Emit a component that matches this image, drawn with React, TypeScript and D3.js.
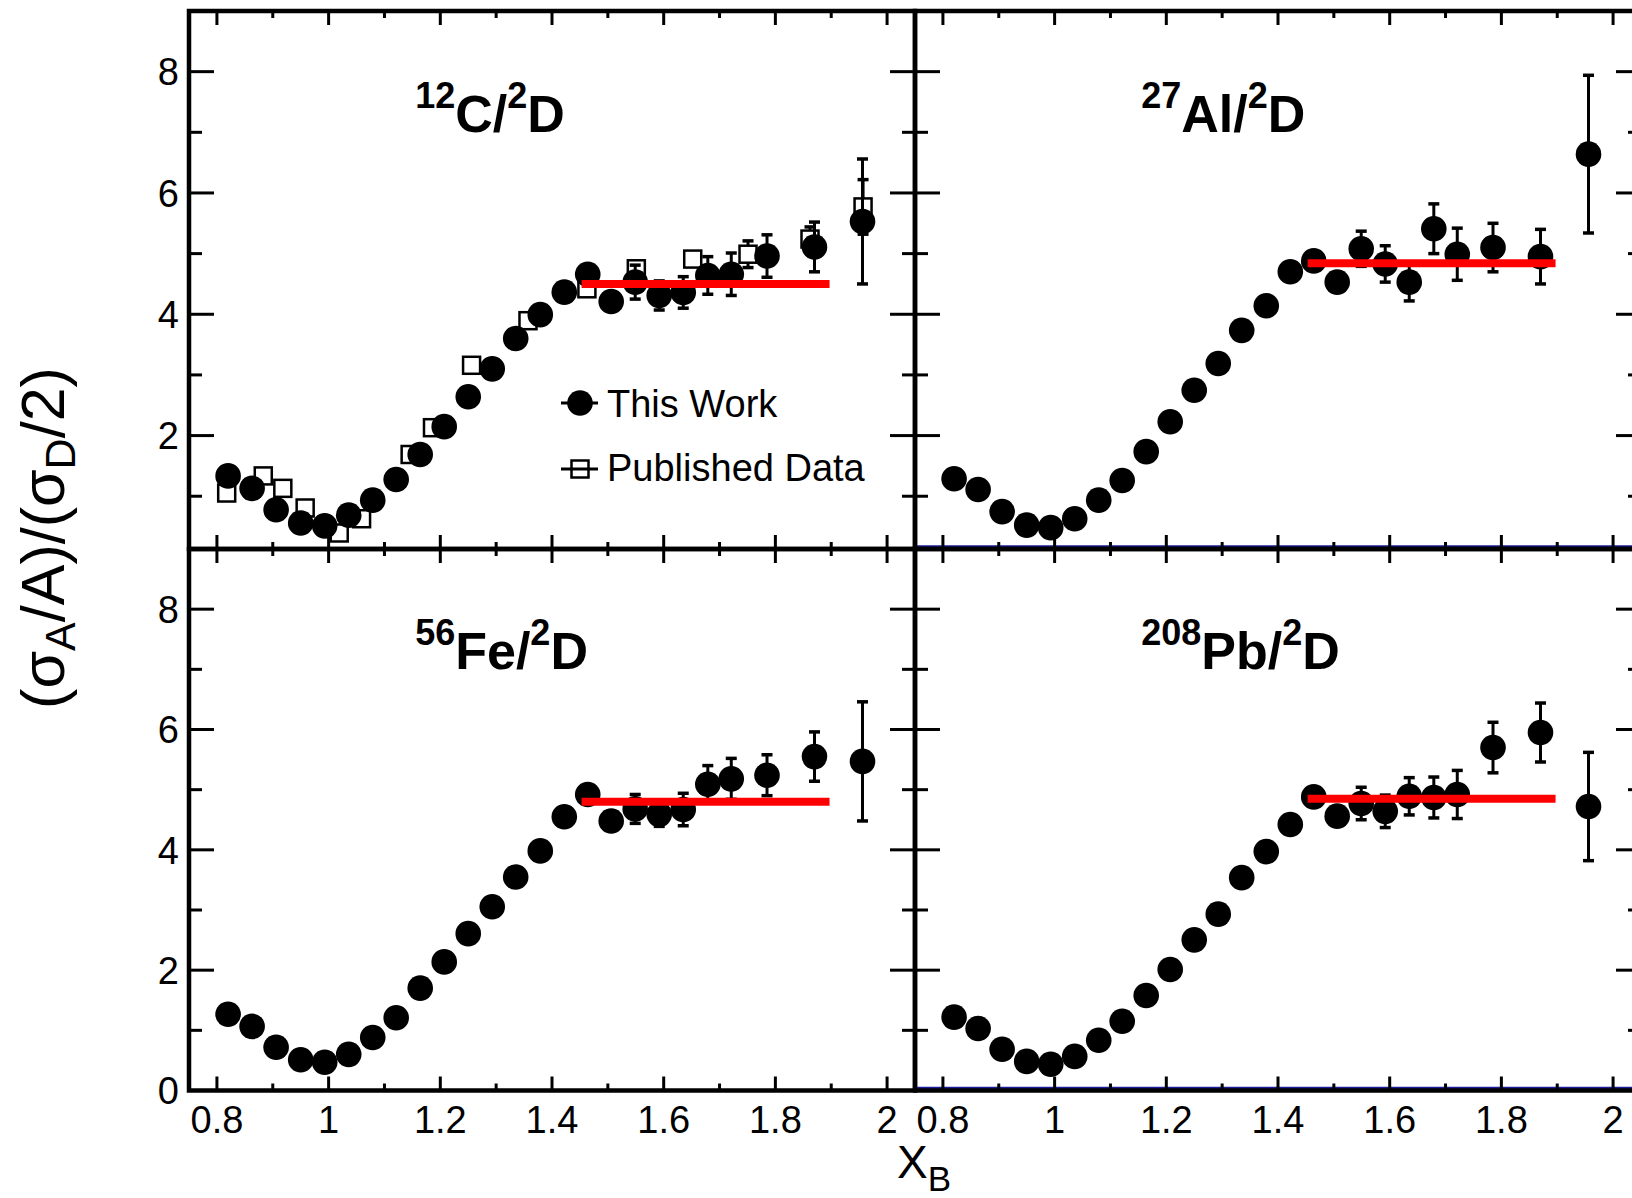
import React from 'react';
import * as d3 from 'd3';

// ---------- data ----------
const xB = [0.820, 0.863, 0.906, 0.950, 0.993, 1.036, 1.079, 1.121, 1.164, 1.207, 1.250, 1.293, 1.335, 1.379, 1.422, 1.464, 1.506, 1.549, 1.592, 1.635, 1.679, 1.721, 1.785, 1.870, 1.956];

const carbonRatio = [1.335, 1.13, 0.776, 0.559, 0.512, 0.688, 0.935, 1.276, 1.688, 2.147, 2.641, 3.10, 3.60, 3.994, 4.365, 4.66, 4.21, 4.53, 4.31, 4.36, 4.64, 4.66, 4.96, 5.11, 5.53];
const carbonErr = [0.03, 0.03, 0.03, 0.03, 0.03, 0.03, 0.03, 0.03, 0.03, 0.03, 0.03, 0.03, 0.03, 0.03, 0.03, 0.08, 0.12, 0.28, 0.24, 0.26, 0.31, 0.35, 0.35, 0.41, 1.03];

const aluminumRatio = [1.288, 1.112, 0.747, 0.524, 0.482, 0.629, 0.935, 1.259, 1.735, 2.229, 2.747, 3.188, 3.735, 4.141, 4.70, 4.88, 4.53, 5.08, 4.83, 4.53, 5.41, 4.99, 5.10, 4.95, 6.64];
const aluminumErr = [0.03, 0.03, 0.03, 0.03, 0.03, 0.03, 0.03, 0.03, 0.03, 0.03, 0.03, 0.03, 0.03, 0.03, 0.03, 0.10, 0.12, 0.29, 0.30, 0.31, 0.41, 0.43, 0.40, 0.45, 1.30];

const ironRatio = [1.268, 1.065, 0.72, 0.512, 0.47, 0.601, 0.881, 1.208, 1.702, 2.137, 2.607, 3.054, 3.548, 3.982, 4.55, 4.92, 4.48, 4.68, 4.59, 4.67, 5.09, 5.18, 5.24, 5.55, 5.47];
const ironErr = [0.03, 0.03, 0.03, 0.03, 0.03, 0.03, 0.03, 0.03, 0.03, 0.03, 0.03, 0.03, 0.03, 0.03, 0.03, 0.08, 0.10, 0.24, 0.20, 0.27, 0.31, 0.34, 0.34, 0.41, 0.99];

const leadRatio = [1.22, 1.03, 0.686, 0.484, 0.436, 0.567, 0.835, 1.15, 1.578, 2.011, 2.504, 2.932, 3.538, 3.971, 4.42, 4.88, 4.56, 4.77, 4.64, 4.89, 4.87, 4.92, 5.70, 5.95, 4.72];
const leadErr = [0.03, 0.03, 0.03, 0.03, 0.03, 0.03, 0.03, 0.03, 0.03, 0.03, 0.03, 0.03, 0.03, 0.03, 0.03, 0.08, 0.10, 0.27, 0.27, 0.31, 0.34, 0.40, 0.42, 0.49, 0.90];

// published carbon data (open squares)
const publishedX = [0.8175, 0.883, 0.918, 0.958, 1.019, 1.059, 1.146, 1.186, 1.256, 1.357, 1.4625, 1.551, 1.652, 1.751, 1.862, 1.957];
const publishedRatio = [1.053, 1.335, 1.13, 0.806, 0.394, 0.629, 1.688, 2.13, 3.159, 3.894, 4.42, 4.75, 4.91, 4.99, 5.24, 5.77];
const publishedErr = [0.03, 0.03, 0.03, 0.03, 0.03, 0.03, 0.03, 0.03, 0.03, 0.03, 0.03, 0.10, 0.12, 0.22, 0.20, 0.45];

// plateau fits
const fitRange = [1.453, 1.897];
const carbonFit = 4.50;
const aluminumFit = 4.84;
const ironFit = 4.80;
const leadFit = 4.85;

// axis ticks
const xMajorTicks = [0.8, 1.0, 1.2, 1.4, 1.6, 1.8, 2.0];
const xTickLabels = ['0.8', '1', '1.2', '1.4', '1.6', '1.8', '2'];
const xMinorTicks = [0.9, 1.1, 1.3, 1.5, 1.7, 1.9];
const yMajorTicks = [0, 2, 4, 6, 8];
const yMinorTicks = [1, 3, 5, 7];

const xDomain = [0.75, 2.05];
const yDomainTop = [0.13, 9];
const yDomainBottom = [0, 9];

// panel labels: [mass number, element]
const panelMass = ['12', '27', '56', '208'];
const panelElement = ['C', 'Al', 'Fe', 'Pb'];

const FONT = 'Liberation Sans, Arial, Helvetica, sans-serif';

type PanelProps = {
  x0: number; x1: number; y0: number; y1: number;
  yDomain: number[];
  values: number[]; errors: number[]; fit: number;
  mass: string; element: string;
  showYLabels: boolean; showXLabels: boolean;
  blueLine: boolean;
  published?: boolean; legend?: boolean;
};

function ErrorPoint({ cx, cyTop, cyBot }: { cx: number; cyTop: number; cyBot: number }) {
  return (
    <g stroke="#000" strokeWidth={3}>
      <line x1={cx} x2={cx} y1={cyTop} y2={cyBot} />
      <line x1={cx - 5.5} x2={cx + 5.5} y1={cyTop} y2={cyTop} strokeWidth={3.5} />
      <line x1={cx - 5.5} x2={cx + 5.5} y1={cyBot} y2={cyBot} strokeWidth={3.5} />
    </g>
  );
}

function Panel(p: PanelProps) {
  const x = d3.scaleLinear().domain(xDomain).range([p.x0, p.x1]);
  const y = d3.scaleLinear().domain(p.yDomain).range([p.y1, p.y0]);
  const inY = (v: number) => v >= p.yDomain[0] && v <= p.yDomain[1];
  const sq = 17;
  return (
    <g>
      {p.blueLine && (
        <line x1={p.x0 + 2} x2={p.x1} y1={p.y1 - 2.5} y2={p.y1 - 2.5} stroke="#1c1c9c" strokeWidth={2.5} />
      )}
      {/* ticks */}
      <g stroke="#000" strokeWidth={3}>
        {xMajorTicks.map((t) => (
          <g key={'xM' + t}>
            <line x1={x(t)} x2={x(t)} y1={p.y1} y2={p.y1 - 14} />
            <line x1={x(t)} x2={x(t)} y1={p.y0} y2={p.y0 + 14} />
          </g>
        ))}
        {xMinorTicks.map((t) => (
          <g key={'xm' + t}>
            <line x1={x(t)} x2={x(t)} y1={p.y1} y2={p.y1 - 7} />
            <line x1={x(t)} x2={x(t)} y1={p.y0} y2={p.y0 + 7} />
          </g>
        ))}
        {yMajorTicks.filter(inY).map((t) => (
          <g key={'yM' + t}>
            <line x1={p.x0} x2={p.x0 + 25} y1={y(t)} y2={y(t)} />
            <line x1={p.x1} x2={p.x1 - 25} y1={y(t)} y2={y(t)} />
          </g>
        ))}
        {yMinorTicks.filter(inY).map((t) => (
          <g key={'ym' + t}>
            <line x1={p.x0} x2={p.x0 + 13} y1={y(t)} y2={y(t)} />
            <line x1={p.x1} x2={p.x1 - 13} y1={y(t)} y2={y(t)} />
          </g>
        ))}
      </g>
      {/* published data */}
      {p.published && (
        <g>
          {publishedX.map((xv, i) => (
            <g key={'p' + i}>
              <ErrorPoint cx={x(xv)} cyTop={y(publishedRatio[i] + publishedErr[i])} cyBot={y(publishedRatio[i] - publishedErr[i])} />
              <rect x={x(xv) - sq / 2} y={y(publishedRatio[i]) - sq / 2} width={sq} height={sq} fill="#fff" stroke="#000" strokeWidth={2.5} />
            </g>
          ))}
        </g>
      )}
      {/* this work */}
      {xB.map((xv, i) => (
        <g key={'d' + i}>
          <ErrorPoint cx={x(xv)} cyTop={y(p.values[i] + p.errors[i])} cyBot={y(p.values[i] - p.errors[i])} />
          <circle cx={x(xv)} cy={y(p.values[i])} r={12.8} fill="#000" />
        </g>
      ))}
      {/* fit */}
      <line x1={x(fitRange[0])} x2={x(fitRange[1])} y1={y(p.fit)} y2={y(p.fit)} stroke="#ff0000" strokeWidth={8} />
      {/* frame */}
      <rect x={p.x0} y={p.y0} width={p.x1 - p.x0} height={p.y1 - p.y0} fill="none" stroke="#000" strokeWidth={4.5} />
      {/* y labels */}
      {p.showYLabels && yMajorTicks.filter(inY).map((t) => (
        <text key={'yl' + t} x={p.x0 - 10} y={y(t)} dy="0.36em" textAnchor="end" fontFamily={FONT} fontSize={38}>{t}</text>
      ))}
      {p.showXLabels && xMajorTicks.map((t, i) => (
        <text key={'xl' + t} x={x(t)} y={p.y1 + 42} textAnchor="middle" fontFamily={FONT} fontSize={38}>{xTickLabels[i]}</text>
      ))}
      {/* panel label */}
      <text x={x(1.155)} y={y(7.0)} fontFamily={FONT} fontWeight="bold" fontSize={52}>
        <tspan fontSize={36} dy={-24}>{p.mass}</tspan>
        <tspan dy={24}>{p.element}/</tspan>
        <tspan fontSize={36} dy={-24}>2</tspan>
        <tspan dy={24}>D</tspan>
      </text>
      {p.legend && (
        <g fontFamily={FONT} fontSize={38}>
          <line x1={561} x2={598} y1={403} y2={403} stroke="#000" strokeWidth={3} />
          <circle cx={580} cy={403} r={12.8} fill="#000" />
          <text x={607} y={417}>This Work</text>
          <line x1={561} x2={598} y1={469} y2={469} stroke="#000" strokeWidth={3} />
          <rect x={580 - sq / 2} y={469 - sq / 2} width={sq} height={sq} fill="none" stroke="#000" strokeWidth={2.5} />
          <text x={607} y={481}>Published Data</text>
        </g>
      )}
    </g>
  );
}

export default function App() {
  const L = [189, 915];
  const R = [915, 1641];
  const T = [11, 549];
  const B = [549, 1090.5];
  return (
    <svg width={1632} height={1198} style={{ position: 'absolute', left: 0, top: 0, background: '#fff' }}>
      <rect x={0} y={0} width={1632} height={1198} fill="#fff" />
      <Panel x0={L[0]} x1={L[1]} y0={T[0]} y1={T[1]} yDomain={yDomainTop} values={carbonRatio} errors={carbonErr} fit={carbonFit}
        mass={panelMass[0]} element={panelElement[0]} showYLabels showXLabels={false} blueLine={false} published legend />
      <Panel x0={R[0]} x1={R[1]} y0={T[0]} y1={T[1]} yDomain={yDomainTop} values={aluminumRatio} errors={aluminumErr} fit={aluminumFit}
        mass={panelMass[1]} element={panelElement[1]} showYLabels={false} showXLabels={false} blueLine />
      <Panel x0={L[0]} x1={L[1]} y0={B[0]} y1={B[1]} yDomain={yDomainBottom} values={ironRatio} errors={ironErr} fit={ironFit}
        mass={panelMass[2]} element={panelElement[2]} showYLabels showXLabels blueLine={false} />
      <Panel x0={R[0]} x1={R[1]} y0={B[0]} y1={B[1]} yDomain={yDomainBottom} values={leadRatio} errors={leadErr} fit={leadFit}
        mass={panelMass[3]} element={panelElement[3]} showYLabels={false} showXLabels blueLine />
      {/* axis titles */}
      <text x={897} y={1178} fontFamily={FONT} fontSize={46}>X<tspan fontSize={35} dy={13}>B</tspan></text>
      <text transform="translate(64, 538) rotate(-90)" textAnchor="middle" fontFamily={FONT} fontSize={61}>
        (σ<tspan fontSize={43} dy={11}>A</tspan><tspan dy={-11}>/A)/(σ</tspan><tspan fontSize={43} dy={11}>D</tspan><tspan dy={-11}>/2)</tspan>
      </text>
    </svg>
  );
}
